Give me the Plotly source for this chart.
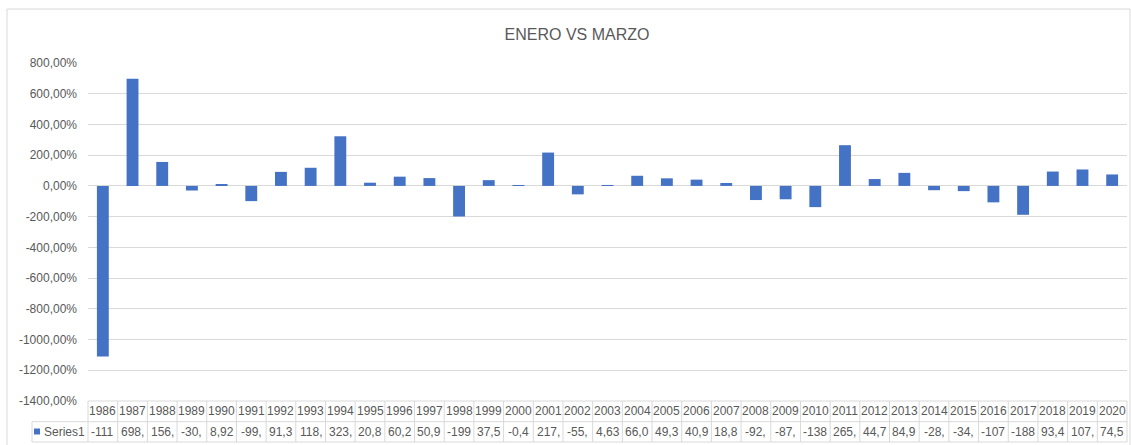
import plotly.graph_objects as go

years = [str(y) for y in range(1986, 2021)]
values = [-1111, 698, 156, -30, 8.92, -99, 91.3, 118, 323, 20.8, 60.2, 50.9, -199, 37.5,
          -0.4, 217, -55, 4.63, 66.0, 49.3, 40.9, 18.8, -92, -87, -138, 265, 44.7, 84.9,
          -28, -34, -107, -188, 93.4, 107, 74.5]
table_labels = ["-111", "698,", "156,", "-30,", "8,92", "-99,", "91,3", "118,", "323,", "20,8",
                "60,2", "50,9", "-199", "37,5", "-0,4", "217,", "-55,", "4,63", "66,0", "49,3",
                "40,9", "18,8", "-92,", "-87,", "-138", "265,", "44,7", "84,9", "-28,", "-34,",
                "-107", "-188", "93,4", "107,", "74,5"]
series_name = "Series1"
title = "ENERO VS MARZO"
tick_vals = [800, 600, 400, 200, 0, -200, -400, -600, -800, -1000, -1200, -1400]
tick_text = [("%.2f%%" % v).replace(".", ",") for v in tick_vals]

W, H = 1131, 445
L, R, T, B = 88, 4, 63, 44
PW, PH = W - L - R, H - T - B
TXT = "#595959"
GRID = "#D9D9D9"
FONT = "Liberation Sans, Arial, sans-serif"


def px(xp):
    return (xp - L) / PW


def py(yp):
    return (H - B - yp) / PH


fig = go.Figure(go.Bar(x=years, y=values, marker=dict(color="#4472C4", line=dict(width=0)),
                       name=series_name))

n = len(years)
row1_top, row_mid, row_bot = py(H - B), py(421.7), py(442)
shapes = []
line = dict(color=GRID, width=1)
# horizontal table lines
shapes.append(dict(type="line", xref="paper", yref="paper", x0=0, x1=1, y0=row1_top, y1=row1_top, line=line))
shapes.append(dict(type="line", xref="paper", yref="paper", x0=px(32), x1=1, y0=row_mid, y1=row_mid, line=line))
shapes.append(dict(type="line", xref="paper", yref="paper", x0=px(32), x1=1, y0=row_bot, y1=row_bot, line=line))
# vertical lines
for i in range(n + 1):
    shapes.append(dict(type="line", xref="paper", yref="paper", x0=i / n, x1=i / n,
                       y0=row_bot, y1=row1_top, line=line))
shapes.append(dict(type="line", xref="paper", yref="paper", x0=px(32), x1=px(32),
                   y0=row_bot, y1=row_mid, line=line))
# legend key square
shapes.append(dict(type="rect", xref="paper", yref="paper", x0=px(34), x1=px(40),
                   y0=py(434.5), y1=py(428.5), fillcolor="#4472C4", line=dict(width=0)))
# chart border
shapes.append(dict(type="rect", xref="paper", yref="paper", x0=px(7), x1=px(1130),
                   y0=py(460), y1=py(9), line=dict(color=GRID, width=1), fillcolor="rgba(0,0,0,0)"))

annotations = []
for i in range(n):
    annotations.append(dict(x=(i + 0.5) / n, y=(row1_top + row_mid) / 2, xref="paper", yref="paper",
                            text=years[i], showarrow=False, xanchor="center", yanchor="middle",
                            font=dict(size=12, color=TXT, family=FONT)))
    annotations.append(dict(x=(i + 0.5) / n, y=(row_mid + row_bot) / 2, xref="paper", yref="paper",
                            text=table_labels[i], showarrow=False, xanchor="center", yanchor="middle",
                            font=dict(size=12, color=TXT, family=FONT)))
annotations.append(dict(x=px(42), y=(row_mid + row_bot) / 2, xref="paper", yref="paper",
                        text=series_name, showarrow=False, xanchor="left", yanchor="middle",
                        font=dict(size=12, color=TXT, family=FONT)))

fig.update_layout(
    width=W, height=H,
    margin=dict(l=L, r=R, t=T, b=B, pad=0),
    paper_bgcolor="white", plot_bgcolor="white",
    title=dict(text=title, x=px(577), xref="paper", xanchor="center",
               y=1 - 34 / H, yref="container", yanchor="middle",
               font=dict(size=16, color=TXT, family=FONT)),
    showlegend=False,
    bargap=0.6,
    xaxis=dict(showticklabels=False, showgrid=False, zeroline=False, showline=False, ticks="",
               range=[-0.5, n - 0.5]),
    yaxis=dict(range=[-1400, 800], tickvals=tick_vals, ticktext=tick_text, showgrid=True,
               gridcolor=GRID, gridwidth=1, zeroline=False, showline=False, ticks="",
               ticklabelstandoff=10,
               tickfont=dict(size=12, color=TXT, family=FONT)),
    shapes=shapes,
    annotations=annotations,
)

fig.write_html("out.html", config={"displayModeBar": False},
               post_script="document.body.style.margin='0';document.body.style.overflow='hidden';")
